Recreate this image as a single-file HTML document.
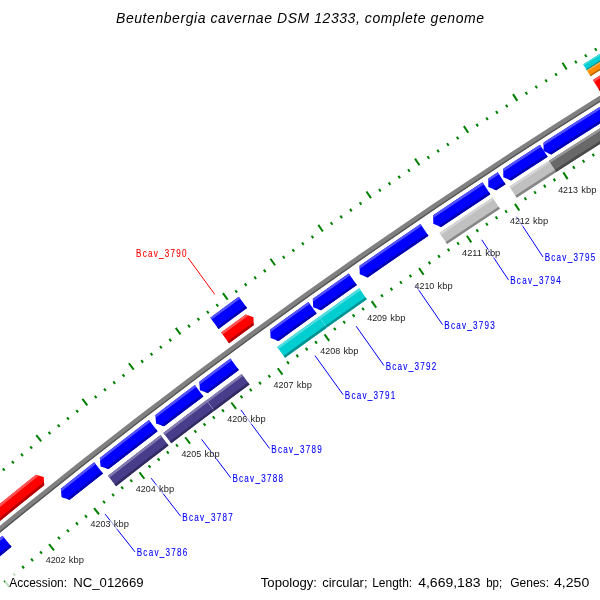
<!DOCTYPE html>
<html><head><meta charset="utf-8"><style>
html,body{margin:0;padding:0;background:#fff;width:600px;height:600px;overflow:hidden}
svg{display:block;will-change:transform}
</style></head><body>
<svg width="600" height="600" viewBox="0 0 600 600">
<rect width="600" height="600" fill="#ffffff"/>
<path d="M-313.96,746.69L-319.41,740.83M-305.38,738.72L-307.42,736.52M-296.78,730.77L-298.82,728.56M-288.17,722.83L-290.20,720.62M-279.54,714.91L-281.57,712.70M-270.90,707.01L-276.29,701.10M-262.24,699.13L-264.25,696.91M-253.56,691.26L-255.57,689.03M-244.87,683.41L-246.88,681.18M-236.16,675.58L-238.17,673.34M-227.44,667.76L-232.77,661.80M-218.70,659.96L-220.70,657.72M-209.95,652.18L-211.94,649.94M-201.18,644.42L-203.17,642.17M-192.40,636.67L-194.38,634.42M-183.60,628.94L-188.87,622.93M-174.78,621.23L-176.75,618.97M-165.95,613.54L-167.92,611.27M-157.11,605.86L-159.07,603.59M-148.25,598.20L-150.21,595.93M-139.37,590.56L-144.59,584.49M-130.48,582.93L-132.43,580.65M-121.58,575.33L-123.52,573.04M-112.66,567.74L-114.60,565.45M-103.72,560.17L-105.66,557.88M-94.77,552.61L-99.92,546.49M-85.81,545.08L-87.73,542.78M-76.83,537.56L-78.75,535.26M-67.83,530.06L-69.75,527.75M-58.82,522.58L-60.74,520.27M-49.80,515.11L-54.89,508.94M-40.76,507.66L-42.66,505.35M-31.70,500.24L-33.60,497.91M-22.63,492.82L-24.53,490.50M-13.55,485.43L-15.44,483.10M-4.45,478.06L-9.49,471.84M4.66,470.70L2.78,468.36M13.79,463.36L11.91,461.02M22.93,456.04L21.05,453.69M32.08,448.73L30.21,446.39M41.25,441.45L36.28,435.18M50.44,434.18L48.58,431.83M59.64,426.93L57.78,424.58M68.85,419.70L67.00,417.34M78.08,412.49L76.23,410.13M87.32,405.30L82.41,398.98M96.57,398.12L94.74,395.75M105.84,390.96L104.01,388.59M115.13,383.82L113.30,381.44M124.43,376.70L122.61,374.32M133.74,369.60L128.89,363.24M143.07,362.52L141.25,360.13M152.41,355.45L150.60,353.06M161.76,348.40L159.96,346.01M171.13,341.38L169.33,338.97M180.51,334.37L175.73,327.95M189.91,327.37L188.12,324.97M199.32,320.40L197.53,317.99M208.74,313.45L206.96,311.03M218.18,306.51L216.40,304.09M227.63,299.59L222.91,293.13M237.09,292.70L235.33,290.27M246.57,285.82L244.81,283.39M256.06,278.96L254.31,276.52M265.57,272.11L263.82,269.68M275.09,265.29L270.43,258.78M284.62,258.49L282.88,256.04M294.16,251.70L292.43,249.25M303.72,244.93L301.99,242.48M313.30,238.19L311.57,235.73M322.88,231.46L318.29,224.90M332.48,224.75L330.76,222.29M342.09,218.06L340.38,215.59M351.72,211.38L350.01,208.92M361.36,204.73L359.65,202.26M371.01,198.10L366.48,191.50M380.67,191.48L378.98,189.00M390.35,184.89L388.66,182.41M400.04,178.31L398.36,175.83M409.75,171.75L408.07,169.26M419.46,165.21L415.00,158.57M429.19,158.69L427.52,156.20M438.93,152.19L437.27,149.70M448.69,145.71L447.03,143.21M458.46,139.25L456.81,136.75M468.24,132.81L463.85,126.13M478.03,126.39L476.39,123.88M487.84,119.99L486.20,117.47M497.66,113.60L496.03,111.08M507.49,107.24L505.86,104.72M517.33,100.89L513.01,94.16M527.19,94.57L525.57,92.04M537.06,88.26L535.45,85.73M546.94,81.97L545.33,79.44M556.83,75.71L555.23,73.17M566.74,69.46L562.48,62.69M576.66,63.23L575.07,60.69M586.59,57.02L585.00,54.48M596.53,50.84L594.95,48.29M606.49,44.67L604.91,42.11M616.46,38.52L612.26,31.70M626.44,32.39L624.87,29.83M636.43,26.28L634.87,23.72M646.43,20.19L644.87,17.62M656.45,14.12L654.90,11.55M666.48,8.07L662.35,1.21M676.52,2.04L674.97,-0.54M686.57,-3.97L685.03,-6.55M696.63,-9.96L695.10,-12.54M706.71,-15.94L705.18,-18.52M716.79,-21.89L712.73,-28.78M726.89,-27.82L725.37,-30.41M737.00,-33.73L735.49,-36.32M747.12,-39.62L745.62,-42.21M757.26,-45.49L755.76,-48.09M767.40,-51.34L763.41,-58.28M777.56,-57.17L776.07,-59.78M787.73,-62.98L786.24,-65.59M797.91,-68.78L796.43,-71.38M808.10,-74.55L806.62,-77.16M818.30,-80.30L814.38,-87.27M828.52,-86.03L827.05,-88.64M838.74,-91.74L837.28,-94.36M848.98,-97.43L847.52,-100.05M859.23,-103.10L857.78,-105.72" stroke="#008000" stroke-width="2" fill="none"/>
<path d="M-256.06,808.92L-250.61,814.77M-247.60,801.06L-245.56,803.26M-239.13,793.22L-237.09,795.43M-230.64,785.40L-228.61,787.61M-222.13,777.60L-220.11,779.81M-213.61,769.81L-208.22,775.72M-205.08,762.04L-203.06,764.26M-196.53,754.28L-194.51,756.51M-187.96,746.54L-185.95,748.77M-179.38,738.82L-177.37,741.06M-170.78,731.12L-165.45,737.08M-162.17,723.43L-160.17,725.67M-153.54,715.77L-151.55,718.01M-144.90,708.11L-142.91,710.36M-136.24,700.48L-134.26,702.73M-127.56,692.86L-122.29,698.87M-118.88,685.26L-116.90,687.52M-110.17,677.67L-108.20,679.94M-101.46,670.11L-99.49,672.38M-92.72,662.56L-90.76,664.83M-83.97,655.03L-78.76,661.09M-75.21,647.51L-73.26,649.79M-66.43,640.01L-64.49,642.30M-57.64,632.53L-55.70,634.82M-48.83,625.07L-46.90,627.36M-40.01,617.63L-34.86,623.74M-31.18,610.20L-29.25,612.50M-22.32,602.79L-20.40,605.09M-13.46,595.39L-11.54,597.70M-4.58,588.02L-2.66,590.33M4.32,580.66L9.41,586.83M13.23,573.32L15.13,575.64M22.15,566.00L24.05,568.32M31.09,558.69L32.98,561.02M40.04,551.41L41.93,553.74M49.01,544.14L54.04,550.36M57.99,536.89L59.87,539.22M66.99,529.65L68.86,531.99M76.00,522.44L77.87,524.78M85.02,515.24L86.89,517.58M94.06,508.06L99.03,514.33M103.11,500.89L104.97,503.25M112.18,493.75L114.03,496.11M121.26,486.62L123.11,488.98M130.36,479.51L132.20,481.88M139.46,472.42L144.37,478.74M148.59,465.35L150.42,467.72M157.73,458.29L159.56,460.67M166.88,451.26L168.70,453.64M176.04,444.24L177.86,446.62M185.22,437.24L190.07,443.60M194.41,430.26L196.22,432.65M203.62,423.29L205.43,425.69M212.84,416.35L214.64,418.74M222.07,409.42L223.87,411.82M231.32,402.51L236.10,408.92M240.58,395.62L242.37,398.03M249.86,388.74L251.64,391.16M259.14,381.89L260.92,384.30M268.45,375.05L270.22,377.47M277.76,368.24L282.48,374.70M287.09,361.44L288.86,363.86M296.43,354.65L298.19,357.08M305.79,347.89L307.54,350.33M315.16,341.15L316.91,343.58M324.54,334.42L329.19,340.93M333.94,327.72L335.68,330.16M343.34,321.03L345.08,323.47M352.77,314.36L354.50,316.81M362.20,307.71L363.93,310.16M371.65,301.07L376.24,307.63M381.11,294.46L382.83,296.92M390.58,287.87L392.30,290.33M400.07,281.29L401.78,283.76M409.57,274.73L411.27,277.20M419.09,268.19L423.61,274.79M428.61,261.67L430.30,264.15M438.15,255.17L439.84,257.65M447.70,248.69L449.39,251.17M457.27,242.23L458.94,244.71M466.85,235.78L471.30,242.42M476.44,229.36L478.10,231.85M486.04,222.95L487.70,225.45M495.65,216.56L497.31,219.06M505.28,210.19L506.93,212.70M514.92,203.84L519.32,210.53M524.58,197.51L526.22,200.02M534.24,191.20L535.88,193.72M543.92,184.91L545.55,187.43M553.61,178.64L555.24,181.16M563.31,172.38L567.64,179.11M573.03,166.15L574.65,168.67M582.76,159.93L584.37,162.46M592.50,153.74L594.10,156.27M602.25,147.56L603.85,150.10M612.01,141.40L616.27,148.17M621.79,135.26L623.38,137.81M631.58,129.14L633.16,131.69M641.38,123.04L642.96,125.59M651.19,116.96L652.77,119.52M661.01,110.90L665.21,117.72M670.85,104.86L672.42,107.42M680.70,98.84L682.26,101.40M690.56,92.84L692.12,95.40M700.43,86.85L701.98,89.42M710.32,80.89L714.44,87.74M720.21,74.95L721.75,77.52M730.12,69.02L731.66,71.60M740.04,63.12L741.57,65.69M749.97,57.23L751.50,59.81M759.91,51.36L763.97,58.26M769.87,45.52L771.38,48.11M779.83,39.69L781.34,42.28M789.81,33.89L791.31,36.48M799.80,28.10L801.30,30.70M809.80,22.33L813.79,29.27M819.81,16.58L821.30,19.19M829.83,10.86L831.32,13.46M839.86,5.15L841.34,7.76M849.91,-0.54L851.38,2.07M859.97,-6.21L863.89,0.77M870.03,-11.86L871.50,-9.24M880.11,-17.48L881.57,-14.86M890.20,-23.09L891.66,-20.47M900.30,-28.68L901.75,-26.05" stroke="#008000" stroke-width="2" fill="none"/>
<path d="M-138.90,642.75 A5887.00,5887.00 0 0 1 869.25,-63.16 L871.91,-58.35 A5881.50,5881.50 0 0 0 -135.29,646.91 Z" fill="#808080"/>
<path d="M-136.14,645.92 A5882.80,5882.80 0 0 1 871.28,-59.48 L871.91,-58.35 A5881.50,5881.50 0 0 0 -135.29,646.91 Z" fill="#535353"/>
<clipPath id="c1"><path d="M-150.05,629.92 A5904.00,5904.00 0 0 1 35.94,474.83 L43.75,477.07 L44.21,485.18 A5890.75,5890.75 0 0 0 -141.36,639.92 Z"/></clipPath>
<path d="M-150.05,629.92 A5904.00,5904.00 0 0 1 35.94,474.83 L43.75,477.07 L44.21,485.18 A5890.75,5890.75 0 0 0 -141.36,639.92 Z" fill="#ff0000"/>
<g clip-path="url(#c1)"><path d="M-166.24,642.72 A5905.00,5905.00 0 0 1 55.12,458.28 L57.23,460.93 A5901.61,5901.61 0 0 0 -164.01,645.27 Z" fill="#ff5252"/><path d="M-158.50,651.57 A5893.24,5893.24 0 0 1 62.42,467.49 L64.59,470.23 A5889.75,5889.75 0 0 0 -156.20,654.19 Z" fill="#b20000"/></g>
<clipPath id="c2"><path d="M221.19,332.60 A5904.00,5904.00 0 0 1 245.82,314.55 L253.52,317.14 L253.62,325.26 A5890.75,5890.75 0 0 0 229.04,343.26 Z"/></clipPath>
<path d="M221.19,332.60 A5904.00,5904.00 0 0 1 245.82,314.55 L253.52,317.14 L253.62,325.26 A5890.75,5890.75 0 0 0 229.04,343.26 Z" fill="#ff0000"/>
<g clip-path="url(#c2)"><path d="M204.02,344.05 A5905.00,5905.00 0 0 1 265.72,298.87 L267.70,301.62 A5901.61,5901.61 0 0 0 206.04,346.77 Z" fill="#ff5252"/><path d="M211.03,353.49 A5893.24,5893.24 0 0 1 272.60,308.40 L274.65,311.23 A5889.75,5889.75 0 0 0 213.11,356.29 Z" fill="#b20000"/></g>
<clipPath id="c3"><path d="M592.93,79.95 A5904.00,5904.00 0 0 1 861.00,-78.02 L867.43,-66.44 A5890.75,5890.75 0 0 0 599.95,91.18 Z"/></clipPath>
<path d="M592.93,79.95 A5904.00,5904.00 0 0 1 861.00,-78.02 L867.43,-66.44 A5890.75,5890.75 0 0 0 599.95,91.18 Z" fill="#ff0000"/>
<g clip-path="url(#c3)"><path d="M574.94,90.06 A5905.00,5905.00 0 0 1 878.56,-88.86 L880.20,-85.89 A5901.61,5901.61 0 0 0 576.75,92.93 Z" fill="#ff5252"/><path d="M581.21,100.01 A5893.24,5893.24 0 0 1 884.23,-78.56 L885.91,-75.50 A5889.75,5889.75 0 0 0 583.07,102.96 Z" fill="#b20000"/></g>
<clipPath id="c4"><path d="M210.29,317.64 A5922.50,5922.50 0 0 1 238.82,296.76 L247.05,308.08 A5908.50,5908.50 0 0 0 218.60,328.91 Z"/></clipPath>
<path d="M210.29,317.64 A5922.50,5922.50 0 0 1 238.82,296.76 L247.05,308.08 A5908.50,5908.50 0 0 0 218.60,328.91 Z" fill="#0000ff"/>
<g clip-path="url(#c4)"><path d="M193.08,329.13 A5923.50,5923.50 0 0 1 254.97,283.81 L256.96,286.57 A5920.10,5920.10 0 0 0 195.10,331.86 Z" fill="#5252ff"/><path d="M200.53,339.17 A5911.00,5911.00 0 0 1 262.29,293.95 L264.34,296.78 A5907.50,5907.50 0 0 0 202.61,341.98 Z" fill="#0000b2"/></g>
<clipPath id="c5"><path d="M583.12,64.26 A5922.50,5922.50 0 0 1 852.04,-94.21 L855.43,-88.08 A5915.50,5915.50 0 0 0 586.83,70.20 Z"/></clipPath>
<path d="M583.12,64.26 A5922.50,5922.50 0 0 1 852.04,-94.21 L855.43,-88.08 A5915.50,5915.50 0 0 0 586.83,70.20 Z" fill="#00ced1"/>
<g clip-path="url(#c5)"><path d="M565.08,74.41 A5923.50,5923.50 0 0 1 869.65,-105.07 L870.74,-103.09 A5921.24,5921.24 0 0 0 566.28,76.32 Z" fill="#52dee0"/><path d="M568.64,80.06 A5916.82,5916.82 0 0 1 872.87,-99.22 L873.99,-97.19 A5914.50,5914.50 0 0 0 569.88,82.02 Z" fill="#009092"/></g>
<clipPath id="c6"><path d="M586.83,70.20 A5915.50,5915.50 0 0 1 855.43,-88.08 L858.82,-81.96 A5908.50,5908.50 0 0 0 590.54,76.13 Z"/></clipPath>
<path d="M586.83,70.20 A5915.50,5915.50 0 0 1 855.43,-88.08 L858.82,-81.96 A5908.50,5908.50 0 0 0 590.54,76.13 Z" fill="#ff8c00"/>
<g clip-path="url(#c6)"><path d="M568.81,80.33 A5916.50,5916.50 0 0 1 873.02,-98.94 L874.11,-96.96 A5914.24,5914.24 0 0 0 570.02,82.24 Z" fill="#ffb152"/><path d="M572.37,85.98 A5909.82,5909.82 0 0 1 876.24,-93.08 L877.36,-91.05 A5907.50,5907.50 0 0 0 573.61,87.94 Z" fill="#b26200"/></g>
<clipPath id="c7"><path d="M-132.73,649.85 A5877.60,5877.60 0 0 1 2.55,535.78 L11.53,546.78 A5863.40,5863.40 0 0 0 -123.42,660.57 Z"/></clipPath>
<path d="M-132.73,649.85 A5877.60,5877.60 0 0 1 2.55,535.78 L11.53,546.78 A5863.40,5863.40 0 0 0 -123.42,660.57 Z" fill="#0000ff"/>
<g clip-path="url(#c7)"><path d="M-148.85,662.58 A5878.60,5878.60 0 0 1 17.82,522.05 L19.96,524.69 A5875.20,5875.20 0 0 0 -146.61,665.14 Z" fill="#5252ff"/><path d="M-140.49,672.14 A5865.90,5865.90 0 0 1 25.83,531.91 L28.03,534.62 A5862.40,5862.40 0 0 0 -138.18,674.77 Z" fill="#0000b2"/></g>
<clipPath id="c8"><path d="M61.57,497.23 L60.82,488.75 A5877.60,5877.60 0 0 1 94.21,462.34 L102.98,473.51 A5863.40,5863.40 0 0 0 69.67,499.85 Z"/></clipPath>
<path d="M61.57,497.23 L60.82,488.75 A5877.60,5877.60 0 0 1 94.21,462.34 L102.98,473.51 A5863.40,5863.40 0 0 0 69.67,499.85 Z" fill="#0000ff"/>
<g clip-path="url(#c8)"><path d="M40.50,503.73 A5878.60,5878.60 0 0 1 109.75,448.91 L111.84,451.59 A5875.20,5875.20 0 0 0 42.63,506.38 Z" fill="#5252ff"/><path d="M48.45,513.63 A5865.90,5865.90 0 0 1 117.56,458.93 L119.71,461.69 A5862.40,5862.40 0 0 0 50.65,516.35 Z" fill="#0000b2"/></g>
<clipPath id="c9"><path d="M100.54,466.40 L99.86,457.91 A5877.60,5877.60 0 0 1 148.93,419.91 L157.56,431.18 A5863.40,5863.40 0 0 0 108.61,469.09 Z"/></clipPath>
<path d="M100.54,466.40 L99.86,457.91 A5877.60,5877.60 0 0 1 148.93,419.91 L157.56,431.18 A5863.40,5863.40 0 0 0 108.61,469.09 Z" fill="#0000ff"/>
<g clip-path="url(#c9)"><path d="M79.41,472.72 A5878.60,5878.60 0 0 1 164.63,406.66 L166.69,409.37 A5875.20,5875.20 0 0 0 81.52,475.38 Z" fill="#5252ff"/><path d="M87.29,482.68 A5865.90,5865.90 0 0 1 172.32,416.77 L174.44,419.56 A5862.40,5862.40 0 0 0 89.46,485.43 Z" fill="#0000b2"/></g>
<clipPath id="c10"><path d="M156.02,423.42 L155.45,414.92 A5877.60,5877.60 0 0 1 194.86,385.07 L203.39,396.43 A5863.40,5863.40 0 0 0 164.07,426.21 Z"/></clipPath>
<path d="M156.02,423.42 L155.45,414.92 A5877.60,5877.60 0 0 1 194.86,385.07 L203.39,396.43 A5863.40,5863.40 0 0 0 164.07,426.21 Z" fill="#0000ff"/>
<g clip-path="url(#c10)"><path d="M134.82,429.48 A5878.60,5878.60 0 0 1 210.70,371.98 L212.73,374.71 A5875.20,5875.20 0 0 0 136.90,432.18 Z" fill="#5252ff"/><path d="M142.58,439.54 A5865.90,5865.90 0 0 1 218.29,382.17 L220.38,384.97 A5862.40,5862.40 0 0 0 144.71,442.31 Z" fill="#0000b2"/></g>
<clipPath id="c11"><path d="M199.87,390.19 L199.38,381.69 A5877.60,5877.60 0 0 1 230.41,358.60 L238.85,370.02 A5863.40,5863.40 0 0 0 207.89,393.05 Z"/></clipPath>
<path d="M199.87,390.19 L199.38,381.69 A5877.60,5877.60 0 0 1 230.41,358.60 L238.85,370.02 A5863.40,5863.40 0 0 0 207.89,393.05 Z" fill="#0000ff"/>
<g clip-path="url(#c11)"><path d="M178.62,396.05 A5878.60,5878.60 0 0 1 246.34,345.63 L248.35,348.37 A5875.20,5875.20 0 0 0 180.67,398.77 Z" fill="#5252ff"/><path d="M186.28,406.19 A5865.90,5865.90 0 0 1 253.85,355.87 L255.92,358.69 A5862.40,5862.40 0 0 0 188.39,408.98 Z" fill="#0000b2"/></g>
<clipPath id="c12"><path d="M270.58,337.95 L270.21,329.45 A5877.60,5877.60 0 0 1 308.43,301.94 L316.68,313.49 A5863.40,5863.40 0 0 0 278.56,340.94 Z"/></clipPath>
<path d="M270.58,337.95 L270.21,329.45 A5877.60,5877.60 0 0 1 308.43,301.94 L316.68,313.49 A5863.40,5863.40 0 0 0 278.56,340.94 Z" fill="#0000ff"/>
<g clip-path="url(#c12)"><path d="M249.24,343.50 A5878.60,5878.60 0 0 1 324.57,289.23 L326.53,292.00 A5875.20,5875.20 0 0 0 251.25,346.24 Z" fill="#5252ff"/><path d="M256.75,353.75 A5865.90,5865.90 0 0 1 331.91,299.59 L333.93,302.45 A5862.40,5862.40 0 0 0 258.82,356.57 Z" fill="#0000b2"/></g>
<clipPath id="c13"><path d="M313.15,307.29 L312.85,298.78 A5877.60,5877.60 0 0 1 348.71,273.44 L356.86,285.06 A5863.40,5863.40 0 0 0 321.09,310.34 Z"/></clipPath>
<path d="M313.15,307.29 L312.85,298.78 A5877.60,5877.60 0 0 1 348.71,273.44 L356.86,285.06 A5863.40,5863.40 0 0 0 321.09,310.34 Z" fill="#0000ff"/>
<g clip-path="url(#c13)"><path d="M291.76,312.65 A5878.60,5878.60 0 0 1 364.95,260.87 L366.90,263.66 A5875.20,5875.20 0 0 0 293.74,315.41 Z" fill="#5252ff"/><path d="M299.17,322.96 A5865.90,5865.90 0 0 1 372.21,271.29 L374.21,274.16 A5862.40,5862.40 0 0 0 301.22,325.80 Z" fill="#0000b2"/></g>
<clipPath id="c14"><path d="M359.76,274.36 L359.55,265.85 A5877.60,5877.60 0 0 1 420.47,223.90 L428.45,235.65 A5863.40,5863.40 0 0 0 367.68,277.50 Z"/></clipPath>
<path d="M359.76,274.36 L359.55,265.85 A5877.60,5877.60 0 0 1 420.47,223.90 L428.45,235.65 A5863.40,5863.40 0 0 0 367.68,277.50 Z" fill="#0000ff"/>
<g clip-path="url(#c14)"><path d="M338.32,279.51 A5878.60,5878.60 0 0 1 436.90,211.58 L438.80,214.40 A5875.20,5875.20 0 0 0 340.28,282.29 Z" fill="#5252ff"/><path d="M345.64,289.90 A5865.90,5865.90 0 0 1 444.00,222.11 L445.96,225.01 A5862.40,5862.40 0 0 0 347.65,292.76 Z" fill="#0000b2"/></g>
<clipPath id="c15"><path d="M433.29,223.79 L433.21,215.27 A5877.60,5877.60 0 0 1 482.51,182.33 L490.34,194.18 A5863.40,5863.40 0 0 0 441.16,227.04 Z"/></clipPath>
<path d="M433.29,223.79 L433.21,215.27 A5877.60,5877.60 0 0 1 482.51,182.33 L490.34,194.18 A5863.40,5863.40 0 0 0 441.16,227.04 Z" fill="#0000ff"/>
<g clip-path="url(#c15)"><path d="M411.77,228.61 A5878.60,5878.60 0 0 1 499.09,170.21 L500.96,173.06 A5875.20,5875.20 0 0 0 413.69,231.42 Z" fill="#5252ff"/><path d="M418.93,239.10 A5865.90,5865.90 0 0 1 506.06,180.83 L507.98,183.76 A5862.40,5862.40 0 0 0 420.90,242.00 Z" fill="#0000b2"/></g>
<clipPath id="c16"><path d="M488.31,187.01 L488.33,178.49 A5877.60,5877.60 0 0 1 497.76,172.29 L505.55,184.16 A5863.40,5863.40 0 0 0 496.14,190.34 Z"/></clipPath>
<path d="M488.31,187.01 L488.33,178.49 A5877.60,5877.60 0 0 1 497.76,172.29 L505.55,184.16 A5863.40,5863.40 0 0 0 496.14,190.34 Z" fill="#0000ff"/>
<g clip-path="url(#c16)"><path d="M466.75,191.58 A5878.60,5878.60 0 0 1 514.38,160.22 L516.24,163.07 A5875.20,5875.20 0 0 0 468.63,194.41 Z" fill="#5252ff"/><path d="M473.78,202.16 A5865.90,5865.90 0 0 1 521.31,170.86 L523.22,173.79 A5862.40,5862.40 0 0 0 475.72,205.07 Z" fill="#0000b2"/></g>
<clipPath id="c17"><path d="M503.29,177.15 L503.33,168.63 A5877.60,5877.60 0 0 1 539.98,144.83 L547.67,156.76 A5863.40,5863.40 0 0 0 511.11,180.51 Z"/></clipPath>
<path d="M503.29,177.15 L503.33,168.63 A5877.60,5877.60 0 0 1 539.98,144.83 L547.67,156.76 A5863.40,5863.40 0 0 0 511.11,180.51 Z" fill="#0000ff"/>
<g clip-path="url(#c17)"><path d="M481.71,181.66 A5878.60,5878.60 0 0 1 556.71,132.90 L558.54,135.77 A5875.20,5875.20 0 0 0 483.58,184.50 Z" fill="#5252ff"/><path d="M488.71,192.25 A5865.90,5865.90 0 0 1 563.55,143.60 L565.43,146.55 A5862.40,5862.40 0 0 0 490.64,195.17 Z" fill="#0000b2"/></g>
<clipPath id="c18"><path d="M543.49,151.01 L543.60,142.49 A5877.60,5877.60 0 0 1 873.80,-54.93 L880.69,-42.52 A5863.40,5863.40 0 0 0 551.28,154.44 Z"/></clipPath>
<path d="M543.49,151.01 L543.60,142.49 A5877.60,5877.60 0 0 1 873.80,-54.93 L880.69,-42.52 A5863.40,5863.40 0 0 0 551.28,154.44 Z" fill="#0000ff"/>
<g clip-path="url(#c18)"><path d="M521.87,155.35 A5878.60,5878.60 0 0 1 891.28,-65.73 L892.92,-62.75 A5875.20,5875.20 0 0 0 523.73,158.20 Z" fill="#5252ff"/><path d="M528.79,166.00 A5865.90,5865.90 0 0 1 897.40,-54.60 L899.09,-51.53 A5862.40,5862.40 0 0 0 530.70,168.93 Z" fill="#0000b2"/></g>
<clipPath id="c19"><path d="M107.94,475.84 A5858.50,5858.50 0 0 1 160.54,435.07 L168.51,445.47 A5845.40,5845.40 0 0 0 116.03,486.15 Z"/></clipPath>
<path d="M107.94,475.84 A5858.50,5858.50 0 0 1 160.54,435.07 L168.51,445.47 A5845.40,5845.40 0 0 0 116.03,486.15 Z" fill="#483d8b"/>
<g clip-path="url(#c19)"><path d="M91.25,487.70 A5859.50,5859.50 0 0 1 176.19,421.87 L178.23,424.54 A5856.14,5856.14 0 0 0 93.34,490.34 Z" fill="#837bb0"/><path d="M98.47,496.84 A5847.86,5847.86 0 0 1 183.24,431.13 L185.33,433.88 A5844.40,5844.40 0 0 0 100.61,499.55 Z" fill="#322b61"/></g>
<clipPath id="c20"><path d="M163.31,432.95 A5858.50,5858.50 0 0 1 206.33,400.35 L214.19,410.82 A5845.40,5845.40 0 0 0 171.27,443.35 Z"/></clipPath>
<path d="M163.31,432.95 A5858.50,5858.50 0 0 1 206.33,400.35 L214.19,410.82 A5845.40,5845.40 0 0 0 171.27,443.35 Z" fill="#483d8b"/>
<g clip-path="url(#c20)"><path d="M146.48,444.61 A5859.50,5859.50 0 0 1 222.11,387.30 L224.12,390.00 A5856.14,5856.14 0 0 0 148.54,447.28 Z" fill="#837bb0"/><path d="M153.59,453.83 A5847.86,5847.86 0 0 1 229.06,396.63 L231.13,399.41 A5844.40,5844.40 0 0 0 155.70,456.57 Z" fill="#322b61"/></g>
<clipPath id="c21"><path d="M206.59,400.16 A5858.50,5858.50 0 0 1 241.76,373.96 L249.54,384.50 A5845.40,5845.40 0 0 0 214.45,410.63 Z"/></clipPath>
<path d="M206.59,400.16 A5858.50,5858.50 0 0 1 241.76,373.96 L249.54,384.50 A5845.40,5845.40 0 0 0 214.45,410.63 Z" fill="#483d8b"/>
<g clip-path="url(#c21)"><path d="M189.65,411.66 A5859.50,5859.50 0 0 1 257.63,361.03 L259.62,363.75 A5856.14,5856.14 0 0 0 191.68,414.35 Z" fill="#837bb0"/><path d="M196.67,420.95 A5847.86,5847.86 0 0 1 264.52,370.42 L266.57,373.21 A5844.40,5844.40 0 0 0 198.76,423.71 Z" fill="#322b61"/></g>
<clipPath id="c22"><path d="M277.11,346.93 A5859.40,5859.40 0 0 1 319.00,316.75 L326.79,327.66 A5846.00,5846.00 0 0 0 284.99,357.77 Z"/></clipPath>
<path d="M277.11,346.93 A5859.40,5859.40 0 0 1 319.00,316.75 L326.79,327.66 A5846.00,5846.00 0 0 0 284.99,357.77 Z" fill="#00ced1"/>
<g clip-path="url(#c22)"><path d="M260.00,358.18 A5860.40,5860.40 0 0 1 335.09,304.08 L337.06,306.85 A5857.00,5857.00 0 0 0 262.01,360.93 Z" fill="#52dee0"/><path d="M267.03,367.78 A5848.50,5848.50 0 0 1 341.97,313.79 L343.99,316.64 A5845.00,5845.00 0 0 0 269.10,370.61 Z" fill="#009092"/></g>
<clipPath id="c23"><path d="M319.10,316.68 A5859.40,5859.40 0 0 1 359.16,288.34 L366.85,299.31 A5846.00,5846.00 0 0 0 326.88,327.59 Z"/></clipPath>
<path d="M319.10,316.68 A5859.40,5859.40 0 0 1 359.16,288.34 L366.85,299.31 A5846.00,5846.00 0 0 0 326.88,327.59 Z" fill="#00ced1"/>
<g clip-path="url(#c23)"><path d="M301.89,327.78 A5860.40,5860.40 0 0 1 375.35,275.80 L377.29,278.59 A5857.00,5857.00 0 0 0 303.87,330.54 Z" fill="#52dee0"/><path d="M308.83,337.44 A5848.50,5848.50 0 0 1 382.15,285.57 L384.15,288.44 A5845.00,5845.00 0 0 0 310.88,340.28 Z" fill="#009092"/></g>
<clipPath id="c24"><path d="M439.51,232.98 A5859.40,5859.40 0 0 1 492.54,197.52 L499.93,208.69 A5846.00,5846.00 0 0 0 447.02,244.08 Z"/></clipPath>
<path d="M439.51,232.98 A5859.40,5859.40 0 0 1 492.54,197.52 L499.93,208.69 A5846.00,5846.00 0 0 0 447.02,244.08 Z" fill="#c0c0c0"/>
<g clip-path="url(#c24)"><path d="M422.03,243.65 A5860.40,5860.40 0 0 1 509.08,185.43 L510.94,188.27 A5857.00,5857.00 0 0 0 423.94,246.46 Z" fill="#d4d4d4"/><path d="M428.73,253.48 A5848.50,5848.50 0 0 1 515.60,195.38 L517.52,198.31 A5845.00,5845.00 0 0 0 430.70,256.37 Z" fill="#868686"/></g>
<clipPath id="c25"><path d="M509.38,186.43 A5859.40,5859.40 0 0 1 549.84,160.13 L557.09,171.39 A5846.00,5846.00 0 0 0 516.73,197.63 Z"/></clipPath>
<path d="M509.38,186.43 A5859.40,5859.40 0 0 1 549.84,160.13 L557.09,171.39 A5846.00,5846.00 0 0 0 516.73,197.63 Z" fill="#c0c0c0"/>
<g clip-path="url(#c25)"><path d="M491.75,196.84 A5860.40,5860.40 0 0 1 566.51,148.24 L568.34,151.10 A5857.00,5857.00 0 0 0 493.62,199.68 Z" fill="#d4d4d4"/><path d="M498.31,206.77 A5848.50,5848.50 0 0 1 572.92,158.26 L574.81,161.21 A5845.00,5845.00 0 0 0 500.24,209.69 Z" fill="#868686"/></g>
<clipPath id="c26"><path d="M548.99,160.67 A5859.40,5859.40 0 0 1 882.63,-39.02 L889.12,-27.30 A5846.00,5846.00 0 0 0 556.25,171.94 Z"/></clipPath>
<path d="M548.99,160.67 A5859.40,5859.40 0 0 1 882.63,-39.02 L889.12,-27.30 A5846.00,5846.00 0 0 0 556.25,171.94 Z" fill="#696969"/>
<g clip-path="url(#c26)"><path d="M531.27,170.94 A5860.40,5860.40 0 0 1 900.05,-49.78 L901.69,-46.80 A5857.00,5857.00 0 0 0 533.12,173.80 Z" fill="#999999"/><path d="M537.75,180.92 A5848.50,5848.50 0 0 1 905.78,-39.35 L907.47,-36.28 A5845.00,5845.00 0 0 0 539.66,183.86 Z" fill="#4a4a4a"/></g>
<line x1="105.09" y1="514.11" x2="135.01" y2="551.91" stroke="#0000ff" stroke-width="1"/>
<text transform="translate(136.71,556.31) scale(0.78,1.0)" font-family="Liberation Sans, sans-serif" font-size="10.4" fill="#0000ff" stroke="#0000ff" stroke-width="0.12" textLength="64.74" lengthAdjust="spacing">Bcav_3786</text>
<line x1="151.08" y1="478.10" x2="180.61" y2="516.19" stroke="#0000ff" stroke-width="1"/>
<text transform="translate(182.31,520.59) scale(0.78,1.0)" font-family="Liberation Sans, sans-serif" font-size="10.4" fill="#0000ff" stroke="#0000ff" stroke-width="0.12" textLength="64.74" lengthAdjust="spacing">Bcav_3787</text>
<line x1="201.63" y1="439.34" x2="230.74" y2="477.75" stroke="#0000ff" stroke-width="1"/>
<text transform="translate(232.44,482.15) scale(0.78,1.0)" font-family="Liberation Sans, sans-serif" font-size="10.4" fill="#0000ff" stroke="#0000ff" stroke-width="0.12" textLength="64.74" lengthAdjust="spacing">Bcav_3788</text>
<line x1="240.84" y1="409.88" x2="269.63" y2="448.54" stroke="#0000ff" stroke-width="1"/>
<text transform="translate(271.33,452.94) scale(0.78,1.0)" font-family="Liberation Sans, sans-serif" font-size="10.4" fill="#0000ff" stroke="#0000ff" stroke-width="0.12" textLength="64.74" lengthAdjust="spacing">Bcav_3789</text>
<line x1="314.96" y1="355.58" x2="343.14" y2="394.68" stroke="#0000ff" stroke-width="1"/>
<text transform="translate(344.84,399.08) scale(0.78,1.0)" font-family="Liberation Sans, sans-serif" font-size="10.4" fill="#0000ff" stroke="#0000ff" stroke-width="0.12" textLength="64.74" lengthAdjust="spacing">Bcav_3791</text>
<line x1="356.12" y1="326.19" x2="383.96" y2="365.54" stroke="#0000ff" stroke-width="1"/>
<text transform="translate(385.66,369.94) scale(0.78,1.0)" font-family="Liberation Sans, sans-serif" font-size="10.4" fill="#0000ff" stroke="#0000ff" stroke-width="0.12" textLength="64.74" lengthAdjust="spacing">Bcav_3792</text>
<line x1="415.19" y1="284.95" x2="442.54" y2="324.64" stroke="#0000ff" stroke-width="1"/>
<text transform="translate(444.24,329.04) scale(0.78,1.0)" font-family="Liberation Sans, sans-serif" font-size="10.4" fill="#0000ff" stroke="#0000ff" stroke-width="0.12" textLength="64.74" lengthAdjust="spacing">Bcav_3793</text>
<line x1="481.70" y1="239.79" x2="508.50" y2="279.86" stroke="#0000ff" stroke-width="1"/>
<text transform="translate(510.20,284.26) scale(0.78,1.0)" font-family="Liberation Sans, sans-serif" font-size="10.4" fill="#0000ff" stroke="#0000ff" stroke-width="0.12" textLength="64.74" lengthAdjust="spacing">Bcav_3794</text>
<line x1="516.46" y1="216.72" x2="542.97" y2="256.97" stroke="#0000ff" stroke-width="1"/>
<text transform="translate(544.67,261.37) scale(0.78,1.0)" font-family="Liberation Sans, sans-serif" font-size="10.4" fill="#0000ff" stroke="#0000ff" stroke-width="0.12" textLength="64.74" lengthAdjust="spacing">Bcav_3795</text>
<line x1="214.72" y1="294.29" x2="188.16" y2="258.03" stroke="#ff0000" stroke-width="1"/>
<text transform="translate(136.06,256.83) scale(0.78,1.0)" font-family="Liberation Sans, sans-serif" font-size="10.4" fill="#ff0000" stroke="#ff0000" stroke-width="0.12" textLength="64.74" lengthAdjust="spacing">Bcav_3790</text>
<rect x="45.07" y="556.29" width="39.80" height="9" fill="#ffffff" fill-opacity="0.6"/>
<text x="45.67" y="563.29" font-family="Liberation Sans, sans-serif" font-size="9.2" fill="#222222" textLength="19.9" lengthAdjust="spacingAndGlyphs">4202</text>
<text x="68.87" y="563.29" font-family="Liberation Sans, sans-serif" font-size="9.2" fill="#222222" textLength="15.1" lengthAdjust="spacingAndGlyphs">kbp</text>
<rect x="89.96" y="520.36" width="39.80" height="9" fill="#ffffff" fill-opacity="0.6"/>
<text x="90.56" y="527.36" font-family="Liberation Sans, sans-serif" font-size="9.2" fill="#222222" textLength="19.9" lengthAdjust="spacingAndGlyphs">4203</text>
<text x="113.76" y="527.36" font-family="Liberation Sans, sans-serif" font-size="9.2" fill="#222222" textLength="15.1" lengthAdjust="spacingAndGlyphs">kbp</text>
<rect x="135.21" y="484.87" width="39.80" height="9" fill="#ffffff" fill-opacity="0.6"/>
<text x="135.81" y="491.87" font-family="Liberation Sans, sans-serif" font-size="9.2" fill="#222222" textLength="19.9" lengthAdjust="spacingAndGlyphs">4204</text>
<text x="159.01" y="491.87" font-family="Liberation Sans, sans-serif" font-size="9.2" fill="#222222" textLength="15.1" lengthAdjust="spacingAndGlyphs">kbp</text>
<rect x="180.80" y="449.84" width="39.80" height="9" fill="#ffffff" fill-opacity="0.6"/>
<text x="181.40" y="456.84" font-family="Liberation Sans, sans-serif" font-size="9.2" fill="#222222" textLength="19.9" lengthAdjust="spacingAndGlyphs">4205</text>
<text x="204.60" y="456.84" font-family="Liberation Sans, sans-serif" font-size="9.2" fill="#222222" textLength="15.1" lengthAdjust="spacingAndGlyphs">kbp</text>
<rect x="226.74" y="415.25" width="39.80" height="9" fill="#ffffff" fill-opacity="0.6"/>
<text x="227.34" y="422.25" font-family="Liberation Sans, sans-serif" font-size="9.2" fill="#222222" textLength="19.9" lengthAdjust="spacingAndGlyphs">4206</text>
<text x="250.54" y="422.25" font-family="Liberation Sans, sans-serif" font-size="9.2" fill="#222222" textLength="15.1" lengthAdjust="spacingAndGlyphs">kbp</text>
<rect x="273.01" y="381.12" width="39.80" height="9" fill="#ffffff" fill-opacity="0.6"/>
<text x="273.61" y="388.12" font-family="Liberation Sans, sans-serif" font-size="9.2" fill="#222222" textLength="19.9" lengthAdjust="spacingAndGlyphs">4207</text>
<text x="296.81" y="388.12" font-family="Liberation Sans, sans-serif" font-size="9.2" fill="#222222" textLength="15.1" lengthAdjust="spacingAndGlyphs">kbp</text>
<rect x="319.63" y="347.45" width="39.80" height="9" fill="#ffffff" fill-opacity="0.6"/>
<text x="320.23" y="354.45" font-family="Liberation Sans, sans-serif" font-size="9.2" fill="#222222" textLength="19.9" lengthAdjust="spacingAndGlyphs">4208</text>
<text x="343.43" y="354.45" font-family="Liberation Sans, sans-serif" font-size="9.2" fill="#222222" textLength="15.1" lengthAdjust="spacingAndGlyphs">kbp</text>
<rect x="366.57" y="314.24" width="39.80" height="9" fill="#ffffff" fill-opacity="0.6"/>
<text x="367.17" y="321.24" font-family="Liberation Sans, sans-serif" font-size="9.2" fill="#222222" textLength="19.9" lengthAdjust="spacingAndGlyphs">4209</text>
<text x="390.37" y="321.24" font-family="Liberation Sans, sans-serif" font-size="9.2" fill="#222222" textLength="15.1" lengthAdjust="spacingAndGlyphs">kbp</text>
<rect x="413.84" y="281.50" width="39.80" height="9" fill="#ffffff" fill-opacity="0.6"/>
<text x="414.44" y="288.50" font-family="Liberation Sans, sans-serif" font-size="9.2" fill="#222222" textLength="19.9" lengthAdjust="spacingAndGlyphs">4210</text>
<text x="437.64" y="288.50" font-family="Liberation Sans, sans-serif" font-size="9.2" fill="#222222" textLength="15.1" lengthAdjust="spacingAndGlyphs">kbp</text>
<rect x="461.43" y="249.23" width="39.80" height="9" fill="#ffffff" fill-opacity="0.6"/>
<text x="462.03" y="256.23" font-family="Liberation Sans, sans-serif" font-size="9.2" fill="#222222" textLength="19.9" lengthAdjust="spacingAndGlyphs">4211</text>
<text x="485.23" y="256.23" font-family="Liberation Sans, sans-serif" font-size="9.2" fill="#222222" textLength="15.1" lengthAdjust="spacingAndGlyphs">kbp</text>
<rect x="509.33" y="217.43" width="39.80" height="9" fill="#ffffff" fill-opacity="0.6"/>
<text x="509.93" y="224.43" font-family="Liberation Sans, sans-serif" font-size="9.2" fill="#222222" textLength="19.9" lengthAdjust="spacingAndGlyphs">4212</text>
<text x="533.13" y="224.43" font-family="Liberation Sans, sans-serif" font-size="9.2" fill="#222222" textLength="15.1" lengthAdjust="spacingAndGlyphs">kbp</text>
<rect x="557.55" y="186.10" width="39.80" height="9" fill="#ffffff" fill-opacity="0.6"/>
<text x="558.15" y="193.10" font-family="Liberation Sans, sans-serif" font-size="9.2" fill="#222222" textLength="19.9" lengthAdjust="spacingAndGlyphs">4213</text>
<text x="581.35" y="193.10" font-family="Liberation Sans, sans-serif" font-size="9.2" fill="#222222" textLength="15.1" lengthAdjust="spacingAndGlyphs">kbp</text>
<text x="116" y="22.7" font-family="Liberation Sans, sans-serif" font-style="italic" font-size="14" fill="#000" textLength="368" lengthAdjust="spacing">Beutenbergia cavernae DSM 12333, complete genome</text>
<rect x="5" y="571" width="142" height="22" fill="#ffffff" fill-opacity="0.75"/>
<text x="9.25" y="586.7" font-family="Liberation Sans, sans-serif" font-size="12" fill="#000" textLength="57.75" lengthAdjust="spacingAndGlyphs">Accession:</text>
<text x="73.20" y="586.7" font-family="Liberation Sans, sans-serif" font-size="12" fill="#000" textLength="70.40" lengthAdjust="spacingAndGlyphs">NC_012669</text>
<text x="260.80" y="586.7" font-family="Liberation Sans, sans-serif" font-size="12" fill="#000" textLength="56.20" lengthAdjust="spacingAndGlyphs">Topology:</text>
<text x="322.30" y="586.7" font-family="Liberation Sans, sans-serif" font-size="12" fill="#000" textLength="45.20" lengthAdjust="spacingAndGlyphs">circular;</text>
<text x="372.20" y="586.7" font-family="Liberation Sans, sans-serif" font-size="12" fill="#000" textLength="40.00" lengthAdjust="spacingAndGlyphs">Length:</text>
<text x="418.20" y="586.7" font-family="Liberation Sans, sans-serif" font-size="12" fill="#000" textLength="62.30" lengthAdjust="spacingAndGlyphs">4,669,183</text>
<text x="486.20" y="586.7" font-family="Liberation Sans, sans-serif" font-size="12" fill="#000" textLength="16.00" lengthAdjust="spacingAndGlyphs">bp;</text>
<text x="510.20" y="586.7" font-family="Liberation Sans, sans-serif" font-size="12" fill="#000" textLength="38.80" lengthAdjust="spacingAndGlyphs">Genes:</text>
<text x="554.00" y="586.7" font-family="Liberation Sans, sans-serif" font-size="12" fill="#000" textLength="35.20" lengthAdjust="spacingAndGlyphs">4,250</text>
</svg>
</body></html>
